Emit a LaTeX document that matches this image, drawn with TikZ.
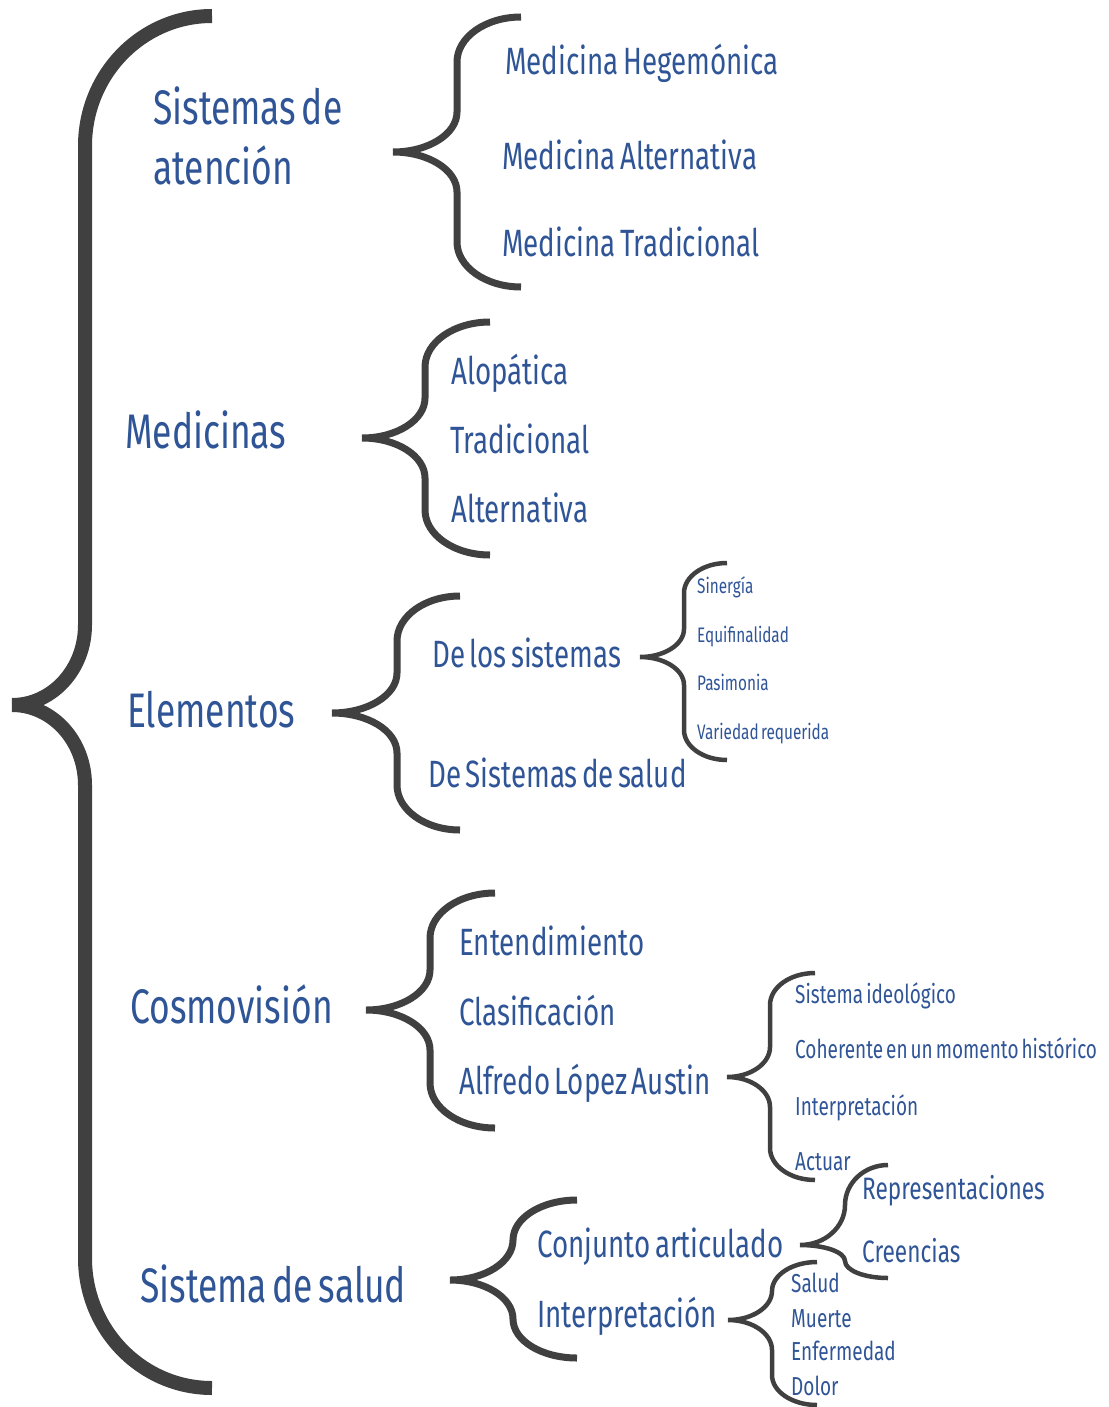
\documentclass[tikz,border=0pt]{standalone}
\usepackage{fontspec}
\setmainfont[FakeStretch=0.73,WordSpace=0.6]{Fira Sans}
\definecolor{azul}{HTML}{2F5597}
\definecolor{gris}{HTML}{404040}

\begin{document}
\begin{tikzpicture}[x=1pt,y=-1pt,
    titulo/.style={anchor=base west,inner sep=0pt,text=azul,font=\fontsize{48.5}{58}\selectfont},
    rama/.style={anchor=base west,inner sep=0pt,text=azul,font=\fontsize{38}{46}\selectfont},
    hoja/.style={anchor=base west,inner sep=0pt,text=azul,font=\fontsize{26}{31}\selectfont},
    mini/.style={anchor=base west,inner sep=0pt,text=azul,font=\fontsize{21}{25}\selectfont},
    llave/.style={draw=gris,line width=7pt},
    llavegrande/.style={draw=gris,line width=14pt},
    llavechica/.style={draw=gris,line width=4.5pt}]
   \useasboundingbox (0,0) rectangle (1108,1407);

   % llave principal
   \draw[llavegrande] (212,16) arc[start angle=-90,end angle=-180,x radius=127,y radius=130] -- (85,625)
                      arc[start angle=0,end angle=90,x radius=73,y radius=80]
                      (12,705) arc[start angle=-90,end angle=0,x radius=73,y radius=80] -- (85,1258)
                      arc[start angle=180,end angle=90,x radius=127,y radius=130];

   % temas
   \node[titulo] (sist) at(153,125) {Sistemas de};
   \node[titulo] (aten) at(153,185) {atención};
   \node[titulo] (med) at(125,448) {Medicinas};
   \node[titulo] (elem) at(127,727) {Elementos};
   \node[titulo] (cosmo) at(130,1023) {Cosmovisión};
   \node[titulo] (salud) at(140,1302) {Sistema de salud};

   % llaves medianas
   \draw[llave] (521,17) arc[start angle=-90,end angle=-180,x radius=64,y radius=45] -- (457,112)
                arc[start angle=0,end angle=90,x radius=64,y radius=40]
                (393,152) arc[start angle=-90,end angle=0,x radius=64,y radius=40] -- (457,242)
                arc[start angle=180,end angle=90,x radius=64,y radius=45];
   \draw[llave] (490,322) arc[start angle=-90,end angle=-180,x radius=65,y radius=45] -- (425,398)
                arc[start angle=0,end angle=90,x radius=63,y radius=40]
                (362,438) arc[start angle=-90,end angle=0,x radius=63,y radius=40] -- (425,510)
                arc[start angle=180,end angle=90,x radius=65,y radius=45];
   \draw[llave] (460,596) arc[start angle=-90,end angle=-180,x radius=63,y radius=45] -- (397,673)
                arc[start angle=0,end angle=90,x radius=65,y radius=40]
                (332,713) arc[start angle=-90,end angle=0,x radius=65,y radius=40] -- (397,785)
                arc[start angle=180,end angle=90,x radius=63,y radius=45];
   \draw[llave] (495,893) arc[start angle=-90,end angle=-180,x radius=65,y radius=45] -- (430,970)
                arc[start angle=0,end angle=90,x radius=64,y radius=40]
                (366,1010) arc[start angle=-90,end angle=0,x radius=64,y radius=40] -- (430,1083)
                arc[start angle=180,end angle=90,x radius=65,y radius=45];
   \draw[llave] (577,1200) arc[start angle=-90,end angle=-180,x radius=64,y radius=40] -- (513,1240)
                arc[start angle=0,end angle=90,x radius=63,y radius=40]
                (450,1280) arc[start angle=-90,end angle=0,x radius=63,y radius=39] -- (513,1319)
                arc[start angle=180,end angle=90,x radius=64,y radius=39];

   \node[rama] (hege) at(505,75) {Medicina Hegemónica};
   \node[rama] (alter) at(502,170) {Medicina Alternativa};
   \node[rama] (trad) at(502,256) {Medicina Tradicional};
   \node[rama] (alo) at(451,384) {Alopática};
   \node[rama] (trad2) at(450,453) {Tradicional};
   \node[rama] (alter2) at(451,522) {Alternativa};
   \node[rama] (delos) at(432,667) {De los sistemas};
   \node[rama] (desis) at(428,787) {De Sistemas de salud};
   \node[rama] (ente) at(459,955) {Entendimiento};
   \node[rama] (clas) at(459,1025) {Clasificación};
   \node[rama] (alf) at(459,1094) {Alfredo López Austin};
   \node[rama] (conj) at(537,1257) {Conjunto articulado};
   \node[rama] (inter) at(537,1327) {Interpretación};

   % llaves chicas
   \draw[llavechica] (727,563) arc[start angle=-90,end angle=-180,x radius=43,y radius=30] -- (684,629)
                     arc[start angle=0,end angle=90,x radius=44,y radius=28]
                     (640,657) arc[start angle=-90,end angle=0,x radius=44,y radius=28] -- (684,730)
                     arc[start angle=180,end angle=90,x radius=43,y radius=30];
   \draw[llavechica] (815,973) arc[start angle=-90,end angle=-180,x radius=45,y radius=32] -- (770,1047)
                     arc[start angle=0,end angle=90,x radius=43,y radius=30]
                     (727,1077) arc[start angle=-90,end angle=0,x radius=43,y radius=30] -- (770,1148)
                     arc[start angle=180,end angle=90,x radius=45,y radius=32];
   \draw[llavechica] (888,1165) arc[start angle=-90,end angle=-180,x radius=43,y radius=40] -- (845,1205)
                     arc[start angle=0,end angle=90,x radius=45,y radius=40]
                     (800,1245) arc[start angle=-90,end angle=0,x radius=45,y radius=16] -- (845,1261)
                     arc[start angle=180,end angle=90,x radius=43,y radius=17];
   \draw[llavechica] (817,1262) arc[start angle=-90,end angle=-180,x radius=45,y radius=29] -- (772,1291)
                     arc[start angle=0,end angle=90,x radius=44,y radius=29]
                     (728,1320) arc[start angle=-90,end angle=0,x radius=44,y radius=30] -- (772,1375)
                     arc[start angle=180,end angle=90,x radius=45,y radius=30];

   \node[mini] (siner) at(697,593) {Sinergía};
   \node[mini] (equi) at(697,642) {Equifinalidad};
   \node[mini] (pasi) at(697,690) {Pasimonia};
   \node[mini] (vari) at(697,739) {Variedad requerida};

   \node[hoja] (ideo) at(795,1003) {Sistema ideológico};
   \node[hoja] (cohe) at(795,1058) {Coherente en un momento histórico};
   \node[hoja] (inter2) at(795,1115) {Interpretación};
   \node[hoja] (actu) at(795,1170) {Actuar};
   \node[hoja,font=\fontsize{31}{37}\selectfont] (repre) at(862,1199) {Representaciones};
   \node[hoja,font=\fontsize{31}{37}\selectfont] (cree) at(862,1262) {Creencias};
   \node[hoja] (sal) at(791,1292) {Salud};
   \node[hoja] (muer) at(791,1327) {Muerte};
   \node[hoja] (enfe) at(791,1360) {Enfermedad};
   \node[hoja] (dol) at(791,1395) {Dolor};
\end{tikzpicture}
\end{document}
